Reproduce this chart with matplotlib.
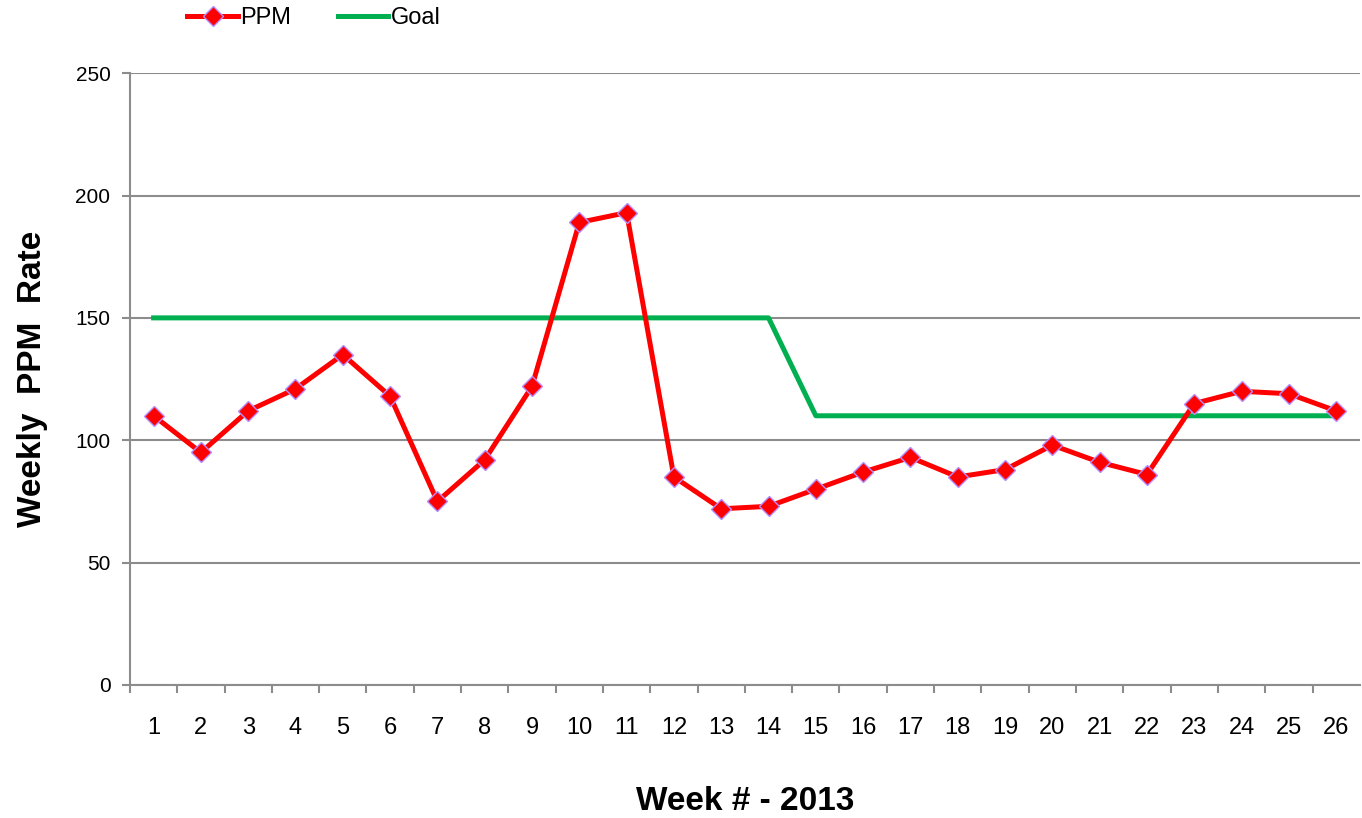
import matplotlib

matplotlib.use("Agg")
import matplotlib.pyplot as plt
from matplotlib import font_manager

weeks = list(range(1, 27))
ppm = [110, 95, 112, 121, 135, 118, 75, 92, 122, 189, 193, 85, 72,
       73, 80, 87, 93, 85, 88, 98, 91, 86, 115, 120, 119, 112]
goal = [150] * 14 + [110] * 12
y_ticks = [0, 50, 100, 150, 200, 250]

installed = {f.name for f in font_manager.fontManager.ttflist}
narrow = "Liberation Sans Narrow" if "Liberation Sans Narrow" in installed else "Liberation Sans"
plt.rcParams["font.family"] = [narrow, "DejaVu Sans"]

GRID = "#8c8c8c"

fig = plt.figure(figsize=(13.62, 8.18), dpi=100)
ax = fig.add_axes([0.0954, 0.1626, 0.903, 0.748])

ax.plot(weeks, ppm, color="#ff0000", lw=3.6, marker="D", markersize=10,
        markerfacecolor="#ff0000", markeredgecolor="#b38cff", markeredgewidth=1.0,
        label="PPM", zorder=3)
ax.plot(weeks, goal, color="#00b050", lw=3.6, label="Goal", zorder=2)

ax.set_xlim(0.5, 26.5)
ax.set_ylim(0, 250)
ax.set_yticks(y_ticks)
ax.set_xticks(weeks)
ax.set_xticks([w + 0.5 for w in range(0, 26)], minor=True)
ax.tick_params(axis="x", which="major", length=0, pad=23, labelsize=17)
ax.tick_params(axis="x", which="minor", length=6, color=GRID, width=1.5)
ax.tick_params(axis="y", length=6, color=GRID, width=1.5, pad=8, labelsize=15)
ax.grid(axis="y", color=GRID, lw=1.5)
ax.set_axisbelow(True)
for side in ("top", "right"):
    ax.spines[side].set_visible(False)
for side in ("left", "bottom"):
    ax.spines[side].set_color(GRID)
    ax.spines[side].set_linewidth(1.5)

ax.set_ylabel("Weekly  PPM  Rate", fontsize=24, fontweight="bold", labelpad=20)
ax.set_xlabel("Week # - 2013", fontsize=24, fontweight="bold", labelpad=34)

fig.legend(loc="upper left", bbox_to_anchor=(0.122, 1.017), ncol=2, frameon=False,
           fontsize=17, handlelength=2.15, handletextpad=0.1, columnspacing=1.95)

fig.savefig("out.png", dpi=100)
